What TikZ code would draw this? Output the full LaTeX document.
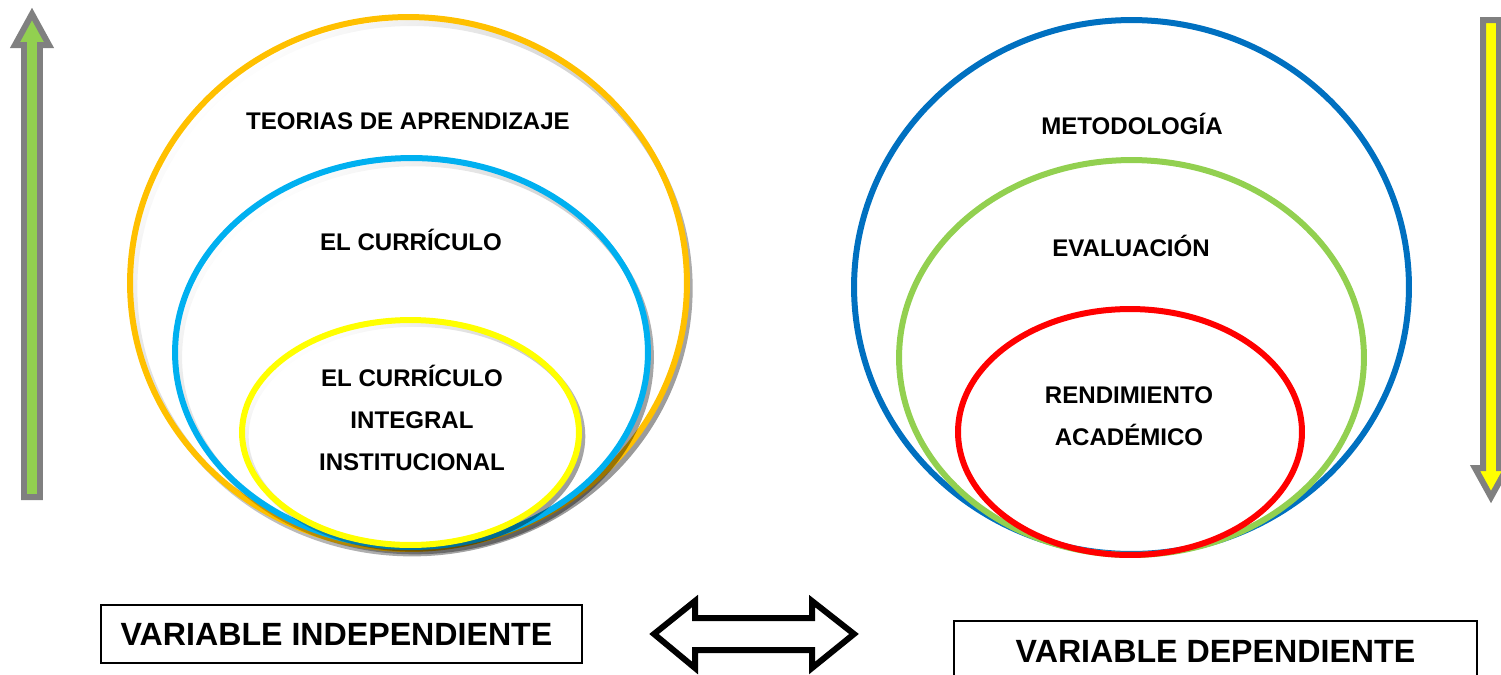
\documentclass[tikz,border=0pt]{standalone}
\usepackage{fontspec}
\setmainfont{Liberation Sans}
\usetikzlibrary{fadings}
\definecolor{corange}{HTML}{FFC000}
\definecolor{clblue}{HTML}{00B0F0}
\definecolor{cyellow}{HTML}{FFFF00}
\definecolor{cdblue}{HTML}{0070C0}
\definecolor{cgreen}{HTML}{92D050}
\definecolor{cred}{HTML}{FF0000}
\definecolor{cgray}{HTML}{808080}
\begin{document}
\begin{tikzpicture}[x=0.02cm,y=-0.02cm,
  ring/.style={line width=0.12cm},
  shadowring/.style={line width=0.12cm, draw=black, draw opacity=0.4, path fading=north, fading angle=45},
  lbl/.style={font=\bfseries\fontsize{13.7}{23.9}\selectfont, align=center, inner sep=0pt},
  varbox/.style={draw=black, line width=0.03cm, font=\bfseries\fontsize{18.3}{22}\selectfont, inner sep=0pt},
  bigarrow/.style={line width=0.12cm, draw=cgray, line join=miter}]
\useasboundingbox (0,0) rectangle (1501,674);
\begin{scope}
\clip (0,0) rectangle (1501,674);
% side arrows
\filldraw[bigarrow, fill=cgreen] (32,14) -- (49,45) -- (40,45) -- (40,497) -- (24,497) -- (24,45) -- (15,45) -- cycle;
\filldraw[bigarrow, fill=cyellow] (1483,20) -- (1499,20) -- (1499,468) -- (1507,468) -- (1491,497) -- (1475,468) -- (1483,468) -- cycle;
% left set
\draw[shadowring] (412,286) ellipse [x radius=5.57cm, y radius=5.32cm];
\draw[ring, corange] (408.5,283) ellipse [x radius=5.57cm, y radius=5.32cm];
\draw[shadowring] (415,356) ellipse [x radius=4.73cm, y radius=3.89cm];
\draw[ring, clblue] (411.5,352.5) ellipse [x radius=4.73cm, y radius=3.89cm];
\draw[shadowring] (414,436) ellipse [x radius=3.37cm, y radius=2.25cm];
\draw[ring, cyellow] (410.5,432.5) ellipse [x radius=3.37cm, y radius=2.25cm];
% right set
\draw[ring, cdblue] (1131.5,287) ellipse [x radius=5.55cm, y radius=5.34cm];
\draw[ring, cgreen] (1131.5,357.5) ellipse [x radius=4.65cm, y radius=3.95cm];
\draw[ring, cred] (1130,432) ellipse [x radius=3.44cm, y radius=2.46cm];
% double arrow
\draw[line width=0.12cm, line join=miter, fill=white] (654,634) -- (695,601) -- (695,618) -- (812,618) -- (812,601) -- (854,634) -- (812,668) -- (812,650) -- (695,650) -- (695,668) -- cycle;
% boxes
\node[varbox, minimum width=9.62cm, minimum height=1.16cm] (vi) at (341.5,634) {\hspace*{-0.2cm}VARIABLE INDEPENDIENTE};
\node[varbox, minimum width=10.46cm, minimum height=1.28cm] (vd) at (1215.5,653) {\raisebox{0.05cm}{VARIABLE DEPENDIENTE}};
\end{scope}
% labels
\node[lbl] (teo) at (408,121) {TEORIAS DE APRENDIZAJE};
\node[lbl] (cur) at (411,240) {EL CURRÍCULO};
\node[lbl] (cii) at (412,418) {EL CURRÍCULO\\INTEGRAL\\INSTITUCIONAL};
\node[lbl] (met) at (1132,124) {METODOLOGÍA};
\node[lbl] (eva) at (1131,246) {EVALUACIÓN};
\node[lbl] (ren) at (1129,416) {RENDIMIENTO\\ACADÉMICO};
\end{tikzpicture}
\end{document}
